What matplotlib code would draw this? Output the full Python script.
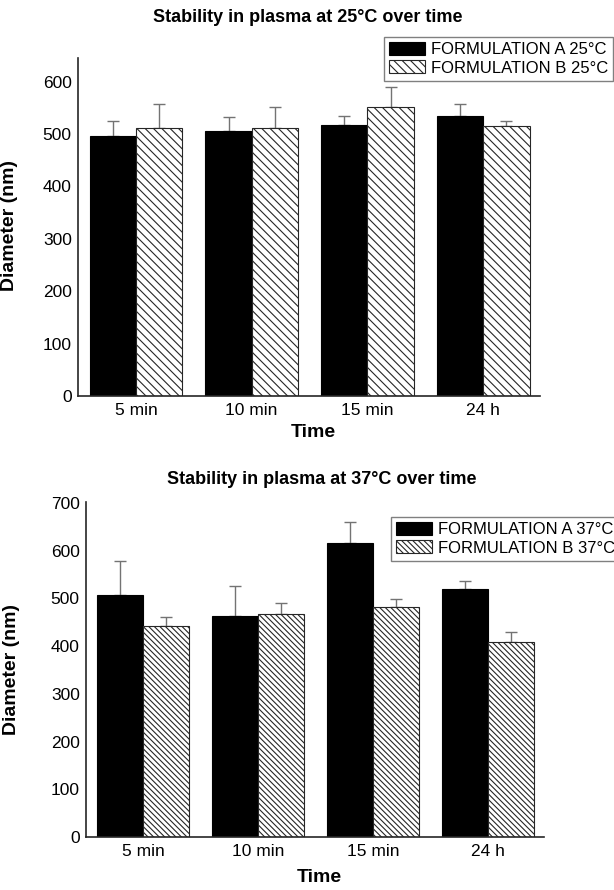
import numpy as np
import matplotlib
matplotlib.use("Agg")
import matplotlib.pyplot as plt

plt.rcParams["font.family"] = ["Liberation Sans", "DejaVu Sans"]
plt.rcParams["hatch.linewidth"] = 0.8

# sampling times
times = ["5 min", "10 min", "15 min", "24 h"]

# 25 degC run: mean diameter (nm) and upper SD
mean_a25 = [496, 506, 518, 534]
sd_a25 = [29, 26, 16, 23]
mean_b25 = [512, 512, 551, 516]
sd_b25 = [45, 40, 38, 9]

# 37 degC run
mean_a37 = [508, 463, 617, 520]
sd_a37 = [70, 62, 44, 16]
mean_b37 = [442, 467, 482, 409]
sd_b37 = [19, 24, 16, 21]


def draw_panel(ax, mean_a, sd_a, mean_b, sd_b, hatch, ymax, yticks):
    x = np.arange(len(times))
    w = 0.4
    ax.bar(x - w / 2, mean_a, w, color="black", edgecolor="black", linewidth=0.8, zorder=2)
    ax.bar(x + w / 2, mean_b, w, color="white", edgecolor="0.15", hatch=hatch,
           linewidth=0.8, zorder=2)
    zero = np.zeros(len(times))
    ax.errorbar(x - w / 2, mean_a, yerr=[zero, sd_a], fmt="none", ecolor="0.45",
                elinewidth=1.0, capsize=4, capthick=1.0, zorder=1)
    ax.errorbar(x + w / 2, mean_b, yerr=[zero, sd_b], fmt="none", ecolor="0.45",
                elinewidth=1.0, capsize=4, capthick=1.0, zorder=1)
    ax.set_xlim(-0.5, 3.49)
    ax.set_ylim(0, ymax)
    ax.set_yticks(yticks)
    ax.set_xticks(x)
    ax.set_xticklabels(times)
    ax.tick_params(length=0, labelsize=12.5)
    ax.tick_params(axis="x", pad=5)
    ax.tick_params(axis="y", pad=4.5)
    for s in ["top", "right"]:
        ax.spines[s].set_visible(False)
    for s in ["left", "bottom"]:
        ax.spines[s].set_linewidth(1.2)
        ax.spines[s].set_color("0.15")
    ax.set_xlabel("Time", fontsize=14, fontweight="bold")
    ax.set_ylabel("Diameter (nm)", fontsize=14, fontweight="bold")


fig = plt.figure(figsize=(6.14, 8.9), dpi=100)

ax1 = fig.add_axes([78 / 614, 1 - 396 / 890, 462 / 614, 338 / 890])
draw_panel(ax1, mean_a25, sd_a25, mean_b25, sd_b25, "\\\\\\\\", 645, range(0, 601, 100))
ax1.yaxis.set_label_coords(-0.13, 0.505)
ax1.xaxis.set_label_coords(0.509, -0.083)

ax2 = fig.add_axes([86 / 614, 1 - 837 / 890, 458 / 614, 335 / 890])
draw_panel(ax2, mean_a37, sd_a37, mean_b37, sd_b37, "\\\\\\\\\\\\", 702, range(0, 701, 100))
ax2.yaxis.set_label_coords(-0.144, 0.5)
ax2.xaxis.set_label_coords(0.509, -0.096)

fig.text(308 / 614, 1 - 18 / 890, "Stability in plasma at 25°C over time",
         ha="center", va="center", fontsize=13, fontweight="bold")
fig.text(322 / 614, 1 - 480 / 890, "Stability in plasma at 37°C over time",
         ha="center", va="center", fontsize=13, fontweight="bold")

leg_kw = dict(loc="upper left", fontsize=12, handlelength=2.16, handleheight=0.84,
              handletextpad=0.35, labelspacing=0.17, borderpad=0.3, borderaxespad=0,
              fancybox=False, framealpha=1, edgecolor="0.5")
leg1 = fig.legend(ax1.containers[:2], ["FORMULATION A 25°C", "FORMULATION B 25°C"],
                  bbox_to_anchor=(384 / 614, 1 - 37 / 890), **leg_kw)
leg2 = fig.legend(ax2.containers[:2], ["FORMULATION A 37°C", "FORMULATION B 37°C"],
                  bbox_to_anchor=(391 / 614, 1 - 517 / 890), **leg_kw)

fig.savefig("out.png", dpi=100)
